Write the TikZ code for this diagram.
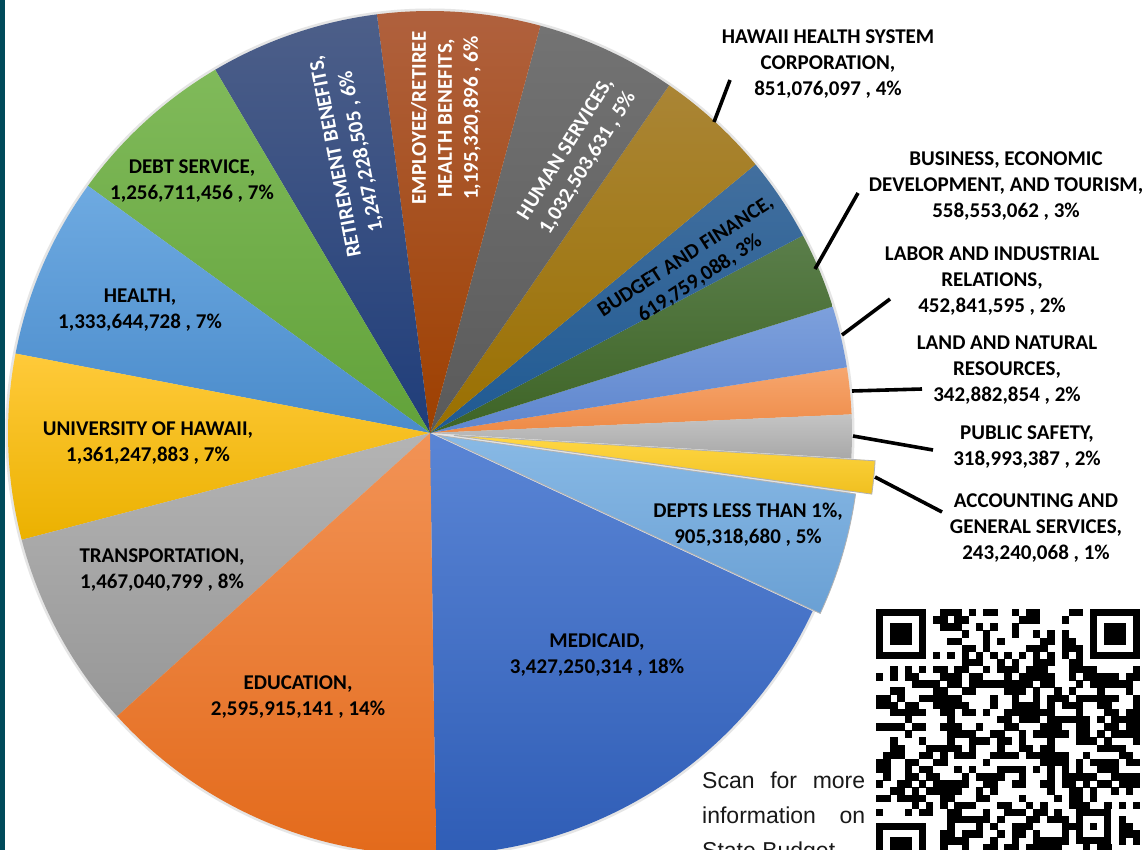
\documentclass[tikz,border=0pt]{standalone}
\usepackage{fontspec}
\setmainfont{Carlito}
\newfontfamily\scanfont{Liberation Sans}
\usetikzlibrary{calc}
\definecolor{stripe}{RGB}{0,74,90}
\definecolor{medT}{HTML}{5A85D5}\definecolor{medB}{HTML}{2F5DB6}
\definecolor{deptT}{HTML}{88B9E5}\definecolor{deptB}{HTML}{6AA0D4}
\definecolor{agsT}{HTML}{FFD744}\definecolor{agsB}{HTML}{F0C020}
\definecolor{psT}{HTML}{C4C4C4}\definecolor{psB}{HTML}{A8A8A8}
\definecolor{landT}{HTML}{F6A66E}\definecolor{landB}{HTML}{EE8A46}
\definecolor{labT}{HTML}{7DA0DC}\definecolor{labB}{HTML}{5E86CE}
\definecolor{bedT}{HTML}{5A7E4A}\definecolor{bedB}{HTML}{3E6426}
\definecolor{bfT}{HTML}{426F9E}\definecolor{bfB}{HTML}{1F5A93}
\definecolor{hhT}{HTML}{AA8535}\definecolor{hhB}{HTML}{9A7000}
\definecolor{humT}{HTML}{737373}\definecolor{humB}{HTML}{5A5A5A}
\definecolor{empT}{HTML}{B0613E}\definecolor{empB}{HTML}{9E4000}
\definecolor{retT}{HTML}{4D5F89}\definecolor{retB}{HTML}{1F3D7A}
\definecolor{debtT}{HTML}{80BA5A}\definecolor{debtB}{HTML}{62A23A}
\definecolor{heaT}{HTML}{6EAAE1}\definecolor{heaB}{HTML}{4A8BCB}
\definecolor{uhT}{HTML}{FFCA3A}\definecolor{uhB}{HTML}{EBB100}
\definecolor{trT}{HTML}{B4B4B4}\definecolor{trB}{HTML}{979797}
\definecolor{eduT}{HTML}{F29356}\definecolor{eduB}{HTML}{E36A1B}
\newcommand\pieslice[6]{%
  \pgfmathsetmacro\slmid{(#1+#2)/2}%
  \shade[top color=#3,bottom color=#4,#6] ($(C)+(\slmid:#5)$) -- ++(#1:422) arc[start angle=#1,end angle=#2,radius=422] -- cycle;%
}
\begin{document}
\begin{tikzpicture}[x=1pt,y=1pt,
  lbl/.style={font=\fontsize{21}{26}\selectfont\bfseries, align=center, inner sep=0pt, text=black, yshift=-2pt},
  wlbl/.style={lbl, text=white},
  leader/.style={line width=3.6pt, black},
  scantext/.style={font=\scanfont\fontsize{23}{35}\selectfont, inner sep=0pt, anchor=base west, text=black!90},
  qrmod/.style={fill=black}]
\useasboundingbox (0,0) rectangle (1148,-850);
\clip (0,0) rectangle (1148,-850);
\fill[white] (0,0) rectangle (1148,-850);
\fill[stripe] (0,0) rectangle (5,-850);
\coordinate (C) at (430,-433);
% soft shadow ring
\fill[black!10] (C) circle (424.5);
% slices
\pieslice{-89.2}{-24.97}{medT}{medB}{0}{}
\pieslice{2.53}{8.96}{landT}{landB}{0}{}
\pieslice{-3.45}{2.53}{psT}{psB}{0}{}
\pieslice{8.96}{17.44}{labT}{labB}{0}{}
\pieslice{17.44}{27.91}{bedT}{bedB}{0}{}
\pieslice{27.91}{39.53}{bfT}{bfB}{0}{}
\pieslice{39.53}{55.48}{hhT}{hhB}{0}{}
\pieslice{55.48}{74.83}{humT}{humB}{0}{}
\pieslice{74.83}{97.23}{empT}{empB}{0}{}
\pieslice{97.23}{120.60}{retT}{retB}{0}{}
\pieslice{120.60}{144.15}{debtT}{debtB}{0}{}
\pieslice{144.15}{169.15}{heaT}{heaB}{0}{}
\pieslice{169.15}{194.66}{uhT}{uhB}{0}{}
\pieslice{194.66}{222.15}{trT}{trB}{0}{}
\pieslice{222.15}{270.80}{eduT}{eduB}{0}{}
\pieslice{-24.97}{-8.00}{deptT}{deptB}{8}{draw=black!30,line width=0.8pt}
\pieslice{-8.00}{-3.45}{agsT}{agsB}{24}{draw=black!30,line width=0.8pt}
% labels inside
\node[lbl] (debt) at (192,-179) {DEBT SERVICE,\\1,256,711,456 , 7\%};
\node[wlbl, rotate=101] (retire) at (349,-152) {RETIREMENT BENEFITS,\\1,247,228,505 , 6\%};
\node[wlbl, rotate=90] (employee) at (446,-116) {EMPLOYEE/RETIREE\\HEALTH BENEFITS,\\1,195,320,896 , 6\%};
\node[wlbl, rotate=58] (human) at (577,-154) {HUMAN SERVICES,\\1,032,503,631 , 5\%};
\node[lbl, rotate=33] (bf) at (693,-266) {BUDGET AND FINANCE,\\619,759,088, 3\%};
\node[lbl] (depts) at (748,-523) {DEPTS LESS THAN 1\%,\\905,318,680 , 5\%};
\node[lbl] (medicaid) at (597,-653) {MEDICAID,\\3,427,250,314 , 18\%};
\node[lbl] (edu) at (298,-695) {EDUCATION,\\2,595,915,141 , 14\%};
\node[lbl] (trans) at (162,-568) {TRANSPORTATION,\\1,467,040,799 , 8\%};
\node[lbl] (uh) at (148,-441) {UNIVERSITY OF HAWAII,\\1,361,247,883 , 7\%};
\node[lbl] (health) at (140,-308) {HEALTH,\\1,333,644,728 , 7\%};
% labels outside
\node[lbl] (hhsc) at (828,-62) {HAWAII HEALTH SYSTEM\\CORPORATION,\\851,076,097 , 4\%};
\node[lbl] (bedt) at (1006,-184) {BUSINESS, ECONOMIC\\DEVELOPMENT, AND TOURISM,\\558,553,062 , 3\%};
\node[lbl] (labor) at (992,-279) {LABOR AND INDUSTRIAL\\RELATIONS,\\452,841,595 , 2\%};
\node[lbl] (land) at (1007,-368) {LAND AND NATURAL\\RESOURCES,\\342,882,854 , 2\%};
\node[lbl] (ps) at (1027,-445) {PUBLIC SAFETY,\\318,993,387 , 2\%};
\node[lbl] (ags) at (1036,-526) {ACCOUNTING AND\\GENERAL SERVICES,\\243,240,068 , 1\%};
% leader lines
\coordinate (hhscA) at (730,-80);   \coordinate (hhscB) at (714,-122);
\coordinate (bedtA) at (858,-193);  \coordinate (bedtB) at (815,-269);
\coordinate (laborA) at (890,-299); \coordinate (laborB) at (842,-335);
\coordinate (landA) at (922,-389);  \coordinate (landB) at (852,-391);
\coordinate (psA) at (933,-450);    \coordinate (psB) at (853,-436);
\coordinate (agsA) at (942,-512);   \coordinate (agsB) at (875,-477);
\draw[leader] (hhscA) -- (hhscB);
\draw[leader] (bedtA) -- (bedtB);
\draw[leader] (laborA) -- (laborB);
\draw[leader] (landA) -- (landB);
\draw[leader] (psA) -- (psB);
\draw[leader] (agsA) -- (agsB);
% scan text
\node[scantext] (scan1) at (702,-788) {\makebox[163pt][s]{Scan for more}};
\node[scantext] (scan2) at (702,-823) {\makebox[163pt][s]{information on}};
\node[scantext] (scan3) at (702,-858) {State Budget};
% QR code
\pgfmathsetseed{20240}
\foreach \r in {0,...,33}{
  \foreach \c in {0,...,36}{
    \pgfmathrandominteger{\qb}{0}{1}%
    \pgfmathtruncatemacro\qres{or(or(and(\r<8,\c<8),and(\r<8,\c>28)),or(and(\r>28,\c<8),and(and(\r>27,\r<33),and(\c>27,\c<33))))}%
    \pgfmathtruncatemacro\qk{ifthenelse(\qres==1,0,ifthenelse(\r==6,1-mod(\c,2),ifthenelse(\c==6,1-mod(\r,2),\qb)))}%
    \ifnum\qk=1 \fill[black] ({876+\c*7.135},{-609-\r*7.135}) rectangle ++(7.4,-7.4);\fi
  }
}
\foreach \fx/\fy in {0/0,30/0,0/30}{
  \fill[black] ({876+\fx*7.135},{-609-\fy*7.135}) rectangle ++(49.945,-49.945);
  \fill[white] ({876+(\fx+1)*7.135},{-609-(\fy+1)*7.135}) rectangle ++(35.675,-35.675);
  \fill[black] ({876+(\fx+2)*7.135},{-609-(\fy+2)*7.135}) rectangle ++(21.405,-21.405);
}
\fill[black] ({876+28*7.135},{-609-28*7.135}) rectangle ++(35.675,-35.675);
\fill[white] ({876+29*7.135},{-609-29*7.135}) rectangle ++(21.405,-21.405);
\fill[black] ({876+30*7.135},{-609-30*7.135}) rectangle ++(7.135,-7.135);
\end{tikzpicture}
\end{document}
